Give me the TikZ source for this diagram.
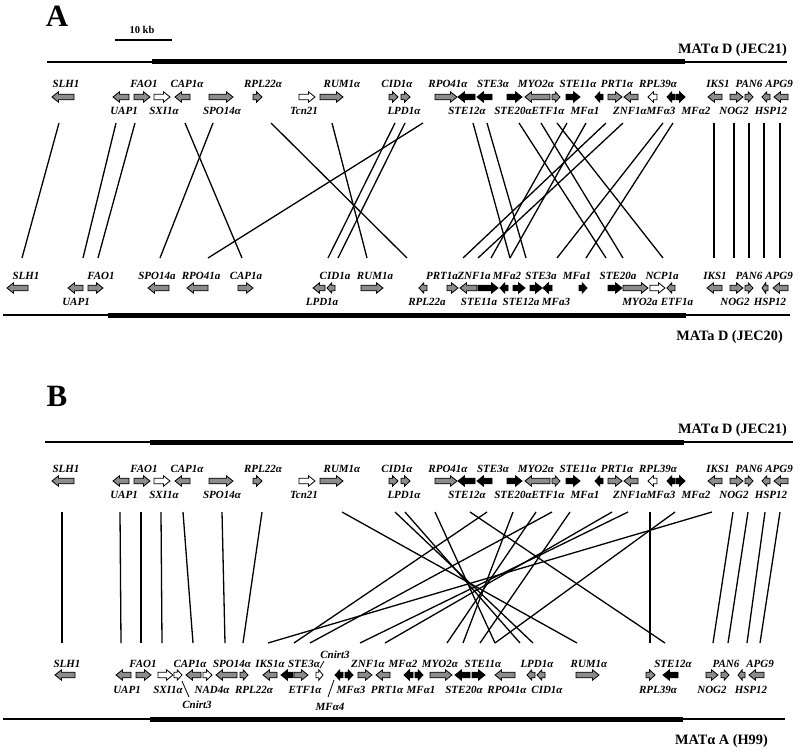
\documentclass[tikz,border=0pt]{standalone}
\usepackage{fontspec}
\setmainfont{Liberation Serif}
\usetikzlibrary{positioning}
\definecolor{genegray}{gray}{0.55}

% one gene arrow: x-start, x-end, y, direction (1 right, -1 left), fill
\newcommand{\genearr}[5]{%
  \pgfmathsetmacro{\gtail}{#4>0 ? #1 : #2}%
  \pgfmathsetmacro{\gtip}{#4>0 ? #2 : #1}%
  \pgfmathsetmacro{\gneck}{\gtip-(#4)*min(6.5,0.6*(#2-#1))}%
  \filldraw[fill=#5, draw=black, line width=0.8pt, line join=miter]
    (\gtail,#3-2.8) -- (\gneck,#3-2.8) -- (\gneck,#3-5.2) -- (\gtip,#3)
    -- (\gneck,#3+5.2) -- (\gneck,#3+2.8) -- (\gtail,#3+2.8) -- cycle;}

\begin{document}
\begin{tikzpicture}[x=1pt, y=-1pt,
    glab/.style={font=\fontsize{11}{13}\selectfont\bfseries\itshape, inner sep=0pt, anchor=base},
    strain/.style={font=\fontsize{14.3}{16}\selectfont\bfseries, inner sep=0pt, anchor=base east},
    panel/.style={font=\fontsize{31}{33}\selectfont\bfseries, inner sep=0pt},
    chrthin/.style={line width=2.2pt},
    chrthick/.style={line width=5pt},
    syn/.style={line width=1.3pt}
]
\useasboundingbox (0,0) rectangle (800,752);

% panel letters and scale bar
\node[panel] (panA) at (57,16) {A};
\node[panel] (panB) at (57,396) {B};
\node[font=\fontsize{10.5}{12}\selectfont\bfseries, inner sep=0pt] (kb) at (142,30) {10 kb};
\draw[line width=2pt] (115,40) -- (172,40);

% chromosomes
\draw[chrthin] (47,62) -- (152,62);
\draw[chrthick] (152,62) -- (685,62);
\draw[chrthin] (685,62) -- (787,62);
\draw[chrthin] (3,315) -- (108,315);
\draw[chrthick] (108,315) -- (686,315);
\draw[chrthin] (686,315) -- (790,315);
\draw[chrthin] (45,442) -- (150,442);
\draw[chrthick] (150,442) -- (684,442);
\draw[chrthin] (684,442) -- (793,442);
\draw[chrthin] (3,719) -- (150,719);
\draw[chrthick] (150,719) -- (683,719);
\draw[chrthin] (683,719) -- (785,719);

\node[strain] (sAt) at (787,53) {MATα D (JEC21)};
\node[strain] (sAb) at (783,340) {MATa D (JEC20)};
\node[strain] (sBt) at (787,433) {MATα D (JEC21)};
\node[strain] (sBb) at (768,744) {MATα A (H99)};

% JEC21 row, same in A and B
\foreach \y in {97,481} {
  \foreach \a/\b/\d/\f in {52/74/-1/genegray, 113/129/-1/genegray, 134/150/1/genegray,
      154/170/1/white, 175/190/-1/genegray, 209/233/1/genegray, 253/262/1/genegray,
      299/315/1/white, 320/343/1/genegray, 389/398/1/genegray, 401/410/1/genegray,
      435/457/1/genegray, 458/475/-1/black, 477/492/-1/black, 507/522/1/black,
      525/550/-1/genegray, 552/560/1/genegray, 566/580/1/black, 595/603/-1/black,
      608/622/1/genegray, 624/638/-1/genegray, 648/657/-1/white, 667/675/-1/black,
      676/685/1/black, 708/722/-1/genegray, 730/743/1/genegray, 745/753/1/genegray,
      762/770/-1/genegray, 774/788/-1/genegray}
    \genearr{\a}{\b}{\y}{\d}{\f};
  \foreach \x/\t in {66/SLH1, 144/FAO1, 187/CAP1α, 263/RPL22α, 342/RUM1α, 397/CID1α,
      448/RPO41α, 493/STE3α, 536/MYO2α, 578/STE11α, 617/PRT1α, 658/RPL39α,
      718/IKS1, 749/PAN6, 779/APG9}
    \node[glab] (up\y-\x) at (\x,\y-9) {\t};
  \foreach \x/\t in {124/UAP1, 164/SXI1α, 222/SPO14α, 304/Tcn21, 404/LPD1α,
      467/STE12α, 513/STE20α, 548/ETF1α, 585/MFα1, 630/ZNF1α, 661/MFα3,
      696/MFα2, 734/NOG2, 771/HSP12}
    \node[glab] (dn\y-\x) at (\x,\y+17) {\t};
}

% JEC20 row
\foreach \a/\b/\d/\f in {7/28/-1/genegray, 68/83/-1/genegray, 88/103/1/genegray,
    148/169/-1/genegray, 187/208/-1/genegray, 238/253/1/genegray, 313/325/-1/genegray,
    327/335/-1/genegray, 361/383/1/genegray, 419/427/-1/genegray, 447/458/1/genegray,
    460/477/-1/genegray, 478/498/1/black, 500/508/-1/black, 513/525/1/black,
    530/542/1/black, 543/552/-1/black, 579/587/1/black, 608/622/1/black,
    623/648/1/genegray, 650/665/1/white, 667/675/-1/genegray, 707/722/-1/genegray,
    730/743/1/genegray, 745/753/1/genegray, 762/768/-1/genegray, 773/788/-1/genegray}
  \genearr{\a}{\b}{288}{\d}{\f};
\foreach \x/\t in {26/SLH1, 101/FAO1, 157/SPO14a, 201/RPO41a, 246/CAP1a, 335/CID1a,
    375/RUM1a, 442/PRT1a, 474/ZNF1a, 507/MFa2, 541/STE3a, 577/MFa1, 618/STE20a,
    662/NCP1a, 715/IKS1, 749/PAN6, 779/APG9}
  \node[glab] (jup-\x) at (\x,279) {\t};
\foreach \x/\t in {76/UAP1, 322/LPD1a, 427/RPL22a, 479/STE11a, 521/STE12a,
    556/MFa3, 640/MYO2a, 677/ETF1a, 735/NOG2, 770/HSP12}
  \node[glab] (jdn-\x) at (\x,305) {\t};

% H99 row
\foreach \a/\b/\d/\f in {55/75/-1/genegray, 116/131/-1/genegray, 136/151/1/genegray,
    158/173/1/white, 174/182/1/white, 186/201/-1/genegray, 203/212/1/white,
    216/237/-1/genegray, 240/248/1/genegray, 263/277/-1/genegray, 281/293/-1/black,
    294/308/1/genegray, 316/323/1/white, 335/343/-1/black, 345/353/1/black,
    358/372/1/genegray, 376/390/-1/genegray, 404/413/-1/black, 415/423/1/black,
    430/452/1/genegray, 455/470/-1/black, 472/485/1/black, 495/515/-1/genegray,
    527/535/-1/genegray, 537/545/-1/genegray, 576/599/1/genegray, 646/655/1/genegray,
    663/678/-1/black, 706/718/1/genegray, 721/729/1/genegray, 738/745/-1/genegray,
    749/764/-1/genegray}
  \genearr{\a}{\b}{675}{\d}{\f};
\foreach \x/\t in {67/SLH1, 143/FAO1, 190/CAP1α, 232/SPO14α, 270/IKS1α, 304/STE3α,
    368/ZNF1α, 403/MFα2, 440/MYO2α, 483/STE11α, 537/LPD1α, 589/RUM1α,
    673/STE12α, 726/PAN6, 760/APG9}
  \node[glab] (hup-\x) at (\x,667) {\t};
\foreach \x/\t in {127/UAP1, 168/SXI1α, 212/NAD4α, 254/RPL22α, 305/ETF1α,
    351/MFα3, 387/PRT1α, 421/MFα1, 464/STE20α, 507/RPO41α, 547/CID1α,
    658/RPL39α, 712/NOG2, 751/HSP12}
  \node[glab] (hdn-\x) at (\x,693) {\t};
\node[glab] (cn-up) at (335,658) {Cnirt3};
\node[glab] (cn-dn) at (197,708) {Cnirt3};
\node[glab] (mf4) at (330,710) {MFα4};
\draw[line width=0.8pt] (324,661) -- (320,668);
\draw[line width=0.8pt] (182,681) -- (189,697);
\draw[line width=0.8pt] (334,680) -- (328,697);

% synteny lines, panel A
\foreach \t/\b in {59/22, 116/83, 135/98, 185/242, 213/160, 271/407, 332/367,
    423/208, 395/328, 405/338, 473/510, 487/526, 519/606, 541/623, 557/663,
    567/491, 586/510, 606/463, 623/478, 663/557, 673/586,
    714/714, 734/734, 749/749, 764/764, 780/780}
  \draw[syn] (\t,123) -- (\b,258);

% synteny lines, panel B
\foreach \t/\b in {62/62, 120/121, 141/141, 161/162, 183/193, 222/225, 262/243,
    342/577, 395/533, 405/520, 435/495, 470/665, 487/294, 513/463, 536/447,
    552/310, 570/480, 612/385, 628/360, 650/650, 675/495, 712/268,
    733/713, 748/728, 765/747, 780/760}
  \draw[syn] (\t,512) -- (\b,643);
\end{tikzpicture}
\end{document}
